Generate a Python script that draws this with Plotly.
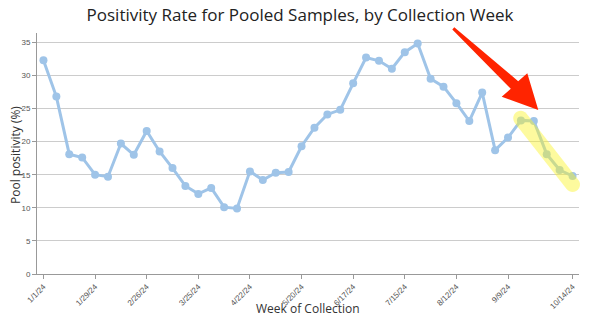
import numpy as np
import pandas as pd
import plotly.graph_objects as go

# ---- data ----
weeks = [d.strftime("%-m/%-d/%y") for d in pd.date_range("2024-01-01", periods=42, freq="7D")]
positivity = [32.3, 26.8, 18.1, 17.6, 15.0, 14.7, 19.7, 18.0, 21.6, 18.5,
              16.0, 13.3, 12.1, 13.0, 10.1, 9.9, 15.5, 14.2, 15.3, 15.4,
              19.3, 22.1, 24.1, 24.8, 28.8, 32.7, 32.2, 31.0, 33.5, 34.8,
              29.5, 28.3, 25.8, 23.1, 27.4, 18.7, 20.6, 23.2, 23.1, 18.1,
              15.7, 14.8]
tick_weeks = ["1/1/24", "1/29/24", "2/26/24", "3/25/24", "4/22/24", "5/20/24",
              "6/17/24", "7/15/24", "8/12/24", "9/9/24", "10/14/24"]

W, H = 600, 330
L, R, T, B = 37, 21, 33, 56
PW, PH = W - L - R, H - T - B

def px(x, y):
    return (x - L) / PW, (H - B - y) / PH

def path_from(points):
    pts = [px(x, y) for x, y in points]
    return "M " + " L ".join(f"{a:.5f},{b:.5f}" for a, b in pts) + " Z"

fig = go.Figure()
fig.add_trace(go.Scatter(
    x=weeks, y=positivity, mode="lines+markers",
    line=dict(color="#9fc4e8", width=3),
    marker=dict(color="#9fc4e8", size=8),
    hoverinfo="skip", showlegend=False,
))

# yellow highlight (capsule)
p1 = np.array([520.7, 118.3]); p2 = np.array([572.5, 184.5]); r = 7.5
d = (p2 - p1) / np.linalg.norm(p2 - p1)
ang0 = np.arctan2(d[1], d[0])
cap = []
for t in np.linspace(-np.pi / 2, np.pi / 2, 12):
    cap.append(p2 + r * np.array([np.cos(ang0 + t), np.sin(ang0 + t)]))
for t in np.linspace(np.pi / 2, 3 * np.pi / 2, 12):
    cap.append(p1 + r * np.array([np.cos(ang0 + t), np.sin(ang0 + t)]))
shapes = [dict(type="path", xref="paper", yref="paper", path=path_from(cap),
               fillcolor="rgba(250,245,40,0.45)", line=dict(width=0), layer="above")]

# red arrow
arrow = [(452.3, 29.6), (510.8, 88.8), (501.7, 96.7), (538.3, 110.0),
         (527.3, 73.3), (518.2, 81.2), (454.3, 27.2)]
shapes.append(dict(type="path", xref="paper", yref="paper", path=path_from(arrow),
                   fillcolor="#ff2400", line=dict(width=0), layer="above"))

fig.update_layout(
    width=W, height=H,
    margin=dict(l=L, r=R, t=T, b=B),
    plot_bgcolor="white", paper_bgcolor="white",
    title=dict(text="Positivity Rate for Pooled Samples, by Collection Week",
               x=0.5, xref="container", xanchor="center",
               y=1 - 15.5 / H, yref="container", yanchor="middle",
               font=dict(family="Open Sans", size=17, color="#222")),
    shapes=shapes,
    annotations=[
        dict(text="Week of Collection", xref="paper", yref="paper",
             x=0.5, y=px(0, 308)[1], xanchor="center", yanchor="middle",
             showarrow=False,
             font=dict(family="Open Sans", size=12, color="#333")),
        dict(text="Pool positivity (%)", xref="paper", yref="paper",
             x=px(15, 0)[0], y=px(0, 155)[1], xanchor="center", yanchor="middle",
             showarrow=False, textangle=-90,
             font=dict(family="Open Sans", size=12, color="#333")),
    ],
    xaxis=dict(type="category", range=[-0.5, 41.5],
               tickmode="array", tickvals=tick_weeks, ticktext=tick_weeks,
               tickangle=-45, ticks="outside", ticklen=4, tickcolor="#999",
               showline=True, linecolor="#999", linewidth=1, showgrid=False,
               tickfont=dict(family="Liberation Sans", size=8, color="#555")),
    yaxis=dict(range=[0, 36.4], dtick=5, ticks="outside", ticklen=4, tickcolor="#999",
               showline=True, linecolor="#999", linewidth=1,
               showgrid=True, gridcolor="#cccccc", gridwidth=1, zeroline=False,
               tickfont=dict(family="Liberation Sans", size=8, color="#555")),
)

fig.write_html("out.html")
